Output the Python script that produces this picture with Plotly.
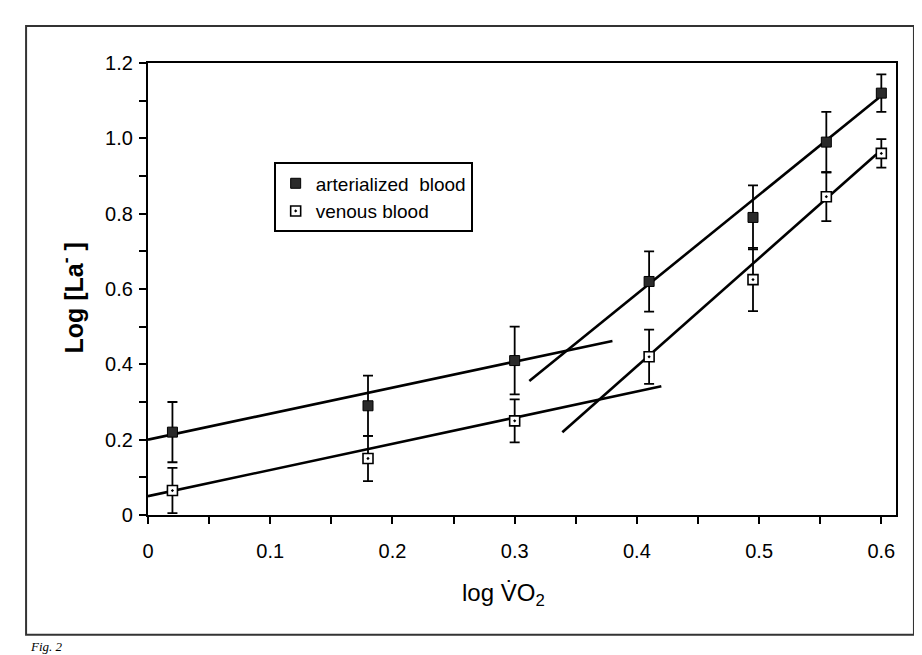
import plotly.graph_objects as go

# ---- data ----
log_vo2 = [0.02, 0.18, 0.30, 0.41, 0.495, 0.555, 0.60]
arterial = [0.22, 0.29, 0.41, 0.62, 0.79, 0.99, 1.12]
arterial_sd = [0.08, 0.08, 0.09, 0.08, 0.085, 0.08, 0.05]
venous = [0.065, 0.15, 0.25, 0.42, 0.625, 0.845, 0.96]
venous_sd = [0.06, 0.06, 0.057, 0.072, 0.084, 0.065, 0.038]

# regression lines: (intercept, slope, x_start, x_end)
art_low_fit = [0.20, 0.69, 0.0, 0.38]
ven_low_fit = [0.05, 0.695, 0.0, 0.42]
art_high_fit = [-0.465, 2.63, 0.312, 0.598]
ven_high_fit = [-0.753, 2.87, 0.339, 0.596]

x_ticks = [0, 0.1, 0.2, 0.3, 0.4, 0.5, 0.6]
x_tick_labels = ["0", "0.1", "0.2", "0.3", "0.4", "0.5", "0.6"]
y_ticks = [0, 0.2, 0.4, 0.6, 0.8, 1.0, 1.2]
y_tick_labels = ["0", "0.2", "0.4", "0.6", "0.8", "1.0", "1.2"]

FONT = "Liberation Sans, Arial, sans-serif"

fig = go.Figure()

for fit in [art_low_fit, ven_low_fit, art_high_fit, ven_high_fit]:
    b, m, x0, x1 = fit
    fig.add_trace(go.Scatter(
        x=[x0, x1], y=[b + m * x0, b + m * x1], mode="lines",
        line=dict(color="black", width=2.6), showlegend=False, hoverinfo="skip"))

fig.add_trace(go.Scatter(
    x=log_vo2, y=arterial, mode="markers", name="arterialized  blood",
    marker=dict(symbol="square", size=10, color="#2a2a2a",
                line=dict(color="black", width=1)),
    error_y=dict(type="data", array=arterial_sd, color="black",
                 thickness=1.8, width=5)))

fig.add_trace(go.Scatter(
    x=log_vo2, y=venous, mode="markers", name="venous blood",
    marker=dict(symbol="square-dot", size=10, color="white",
                line=dict(color="black", width=1.6)),
    error_y=dict(type="data", array=venous_sd, color="black",
                 thickness=1.8, width=5)))

# minor ticks
x_minor = [v / 100 for v in range(5, 61, 10)]
y_minor = [v / 10 for v in range(1, 12, 2)]

fig.update_layout(
    width=922, height=655,
    margin=dict(l=140, r=34, t=55, b=148),
    paper_bgcolor="white", plot_bgcolor="white",
    font=dict(family=FONT, color="black", size=20),
    xaxis=dict(range=[0, 0.612], tickvals=x_ticks, ticktext=x_tick_labels,
               ticks="outside", ticklen=7, tickwidth=1.5, tickcolor="black",
               showline=True, linewidth=2.2, linecolor="black", mirror=True,
               showgrid=False, zeroline=False, ticklabelstandoff=10,
               minor=dict(tickvals=x_minor, ticks="outside", ticklen=7,
                          tickwidth=1.5, tickcolor="black", showgrid=False),
               tickfont=dict(size=20)),
    yaxis=dict(range=[0, 1.2], tickvals=y_ticks, ticktext=y_tick_labels,
               ticks="outside", ticklen=7, tickwidth=1.5, tickcolor="black",
               showline=True, linewidth=2.2, linecolor="black", mirror=True,
               showgrid=False, zeroline=False, ticklabelstandoff=2,
               minor=dict(tickvals=y_minor, ticks="outside", ticklen=7,
                          tickwidth=1.5, tickcolor="black", showgrid=False),
               tickfont=dict(size=20)),
    legend=dict(x=0.168, y=0.78, xanchor="left", yanchor="top",
                bgcolor="white", bordercolor="black", borderwidth=2,
                font=dict(size=19, family=FONT), itemwidth=30,
                tracegroupgap=0),
    showlegend=True,
)

# outer paper border of the scanned figure
fig.add_shape(type="rect", xref="paper", yref="paper",
              x0=-0.163, x1=1.024, y0=-0.265, y1=1.082,
              line=dict(color="#333333", width=2), fillcolor="rgba(0,0,0,0)",
              layer="below")

fig.add_annotation(text="<b>Log [La<sup>-</sup> ]</b>", textangle=-90,
                   xref="paper", yref="paper", x=-0.125, y=0.48,
                   showarrow=False, font=dict(size=25, family=FONT))
fig.add_annotation(text="log V\u0307O<sub>2</sub>",
                   xref="paper", yref="paper", x=0.475, y=-0.215,
                   showarrow=False, font=dict(size=24, family=FONT))
fig.add_annotation(text="<i>Fig. 2</i>", xref="paper", yref="paper",
                   x=-0.16, y=-0.27, xanchor="left", yanchor="top",
                   showarrow=False,
                   font=dict(size=13, family="Liberation Serif, serif"))

fig.write_html("out.html")
